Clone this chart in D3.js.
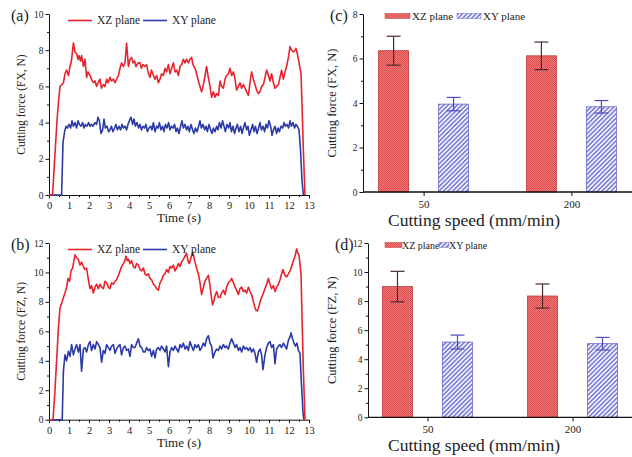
<!DOCTYPE html>
<html>
<head>
<meta charset="utf-8">
<script src="https://cdn.jsdelivr.net/npm/d3@7"></script>
<style>
  body { margin: 0; background: #fff; }
  svg text { font-family: 'Liberation Serif', 'Times New Roman', Times, serif; fill: #222; }
</style>
</head>
<body>
<svg id="chart" width="632" height="457" font-family="Liberation Serif, serif"></svg>
<script>
// ---- data ----
const timeTicks = [0, 1, 2, 3, 4, 5, 6, 7, 8, 9, 10, 11, 12, 13];
const timeMinor = [0.5, 1.5, 2.5, 3.5, 4.5, 5.5, 6.5, 7.5, 8.5, 9.5, 10.5, 11.5, 12.5];
const planes = ['XZ plane', 'XY plane'];
const speeds = ['50', '200'];

// (a) FX vs time, [t, N]
const fxXZLine = [[0,0],[0.18,0],[0.3,2.3],[0.4,4.1],[0.47,5.1],[0.55,6.0],[0.65,6.1],[0.72,6.2],[0.8,6.7],[0.88,6.9],[0.97,6.6],[1.05,7.1],[1.12,7.4],[1.22,8.4],[1.3,7.9],[1.38,7.8],[1.45,7.5],[1.5,7.7],[1.57,7.4],[1.63,7.7],[1.72,7.1],[1.8,7.5],[1.88,6.5],[1.95,6.8],[2.05,6.6],[2.12,6.4],[2.22,6.2],[2.3,6.3],[2.38,6.0],[2.45,6.2],[2.55,6.4],[2.62,5.9],[2.72,6.1],[2.8,6.0],[2.88,6.4],[2.95,6.2],[3.05,6.5],[3.12,6.3],[3.22,6.4],[3.3,6.2],[3.38,6.4],[3.47,6.6],[3.55,7.0],[3.63,7.3],[3.72,7.1],[3.8,7.3],[3.88,8.4],[3.97,7.1],[4.05,7.5],[4.13,7.6],[4.2,7.3],[4.28,7.4],[4.35,7.1],[4.45,7.3],[4.55,7.3],[4.62,7.0],[4.7,7.2],[4.8,7.1],[4.88,7.2],[4.95,6.8],[5.05,6.5],[5.12,6.9],[5.22,6.6],[5.3,6.4],[5.38,6.6],[5.47,6.2],[5.55,6.4],[5.63,6.7],[5.72,6.6],[5.8,7.0],[5.88,6.8],[5.97,7.2],[6.05,6.7],[6.13,7.0],[6.22,7.3],[6.3,6.8],[6.38,6.9],[6.47,6.6],[6.55,7.1],[6.63,7.2],[6.72,7.5],[6.8,7.3],[6.88,7.5],[6.97,7.3],[7.05,7.5],[7.13,7.6],[7.2,7.2],[7.3,7.0],[7.38,6.7],[7.47,6.3],[7.55,6.0],[7.63,5.7],[7.72,6.1],[7.8,6.6],[7.88,7.1],[7.95,6.6],[8.05,6.0],[8.13,5.4],[8.22,5.7],[8.3,5.4],[8.38,5.6],[8.47,5.5],[8.55,6.3],[8.63,6.0],[8.72,5.9],[8.8,6.4],[8.88,6.6],[8.97,6.7],[9.05,7.0],[9.13,6.6],[9.22,6.8],[9.3,6.4],[9.38,5.8],[9.47,6.0],[9.55,6.2],[9.63,5.9],[9.72,6.1],[9.8,5.9],[9.88,5.7],[9.97,5.5],[10.05,6.2],[10.13,6.8],[10.22,6.4],[10.3,6.1],[10.38,5.8],[10.47,5.6],[10.55,5.7],[10.63,6.0],[10.72,6.1],[10.8,6.5],[10.88,6.9],[10.97,6.6],[11.05,6.3],[11.13,6.7],[11.22,6.2],[11.3,5.9],[11.38,6.0],[11.47,6.1],[11.55,6.5],[11.63,6.9],[11.72,6.4],[11.8,6.8],[11.88,7.1],[11.97,7.6],[12.05,8.2],[12.13,8.0],[12.22,7.9],[12.3,8.0],[12.35,8.1],[12.42,7.8],[12.47,7.5],[12.55,7.0],[12.6,6.7],[12.65,5.0],[12.72,2.4],[12.8,0]];
const fxXYLine = [[0,0],[0.63,0],[0.7,2.9],[0.78,3.5],[0.85,3.8],[0.92,3.7],[1.0,3.9],[1.08,3.7],[1.15,4.1],[1.22,3.8],[1.3,4.0],[1.38,3.7],[1.45,4.1],[1.52,3.9],[1.6,3.8],[1.68,4.0],[1.75,3.7],[1.82,3.9],[1.9,3.8],[1.98,4.0],[2.05,3.8],[2.12,3.9],[2.2,3.8],[2.3,4.0],[2.38,3.9],[2.45,4.3],[2.52,4.1],[2.6,3.4],[2.68,3.6],[2.75,4.2],[2.82,3.7],[2.9,3.8],[2.98,3.5],[3.05,3.6],[3.12,3.8],[3.2,3.5],[3.28,3.7],[3.35,3.9],[3.42,3.6],[3.5,3.8],[3.58,3.6],[3.65,3.9],[3.72,3.7],[3.8,3.8],[3.88,3.6],[3.95,3.9],[4.02,4.1],[4.1,4.3],[4.18,3.9],[4.25,4.2],[4.32,3.8],[4.4,4.0],[4.48,3.7],[4.55,3.9],[4.62,3.6],[4.7,3.8],[4.78,3.7],[4.85,3.9],[4.92,3.5],[5.0,3.7],[5.08,3.8],[5.15,3.6],[5.22,4.0],[5.3,3.5],[5.38,3.8],[5.45,3.7],[5.52,4.0],[5.6,3.6],[5.68,3.8],[5.75,3.5],[5.82,3.9],[5.9,3.7],[5.98,4.0],[6.05,3.6],[6.12,3.8],[6.2,3.7],[6.28,3.9],[6.35,3.5],[6.42,3.7],[6.5,3.4],[6.58,3.8],[6.65,4.1],[6.72,3.7],[6.8,3.9],[6.88,3.6],[6.95,3.8],[7.02,3.5],[7.1,3.9],[7.18,3.6],[7.25,3.4],[7.32,3.7],[7.4,3.5],[7.48,3.8],[7.55,4.1],[7.62,3.7],[7.7,3.9],[7.78,3.6],[7.85,3.8],[7.92,3.5],[8.0,3.9],[8.08,3.6],[8.15,3.4],[8.22,3.7],[8.3,3.5],[8.38,3.8],[8.45,3.6],[8.52,4.0],[8.6,3.7],[8.68,4.1],[8.75,3.8],[8.82,3.5],[8.9,3.9],[8.98,3.7],[9.05,4.0],[9.12,3.5],[9.2,3.8],[9.28,3.4],[9.35,3.7],[9.42,3.9],[9.5,3.5],[9.58,3.8],[9.65,3.4],[9.72,3.7],[9.8,4.0],[9.88,3.6],[9.95,3.8],[10.02,3.3],[10.1,3.6],[10.18,3.9],[10.25,3.5],[10.32,3.8],[10.4,3.4],[10.48,3.7],[10.55,4.0],[10.62,3.6],[10.7,3.8],[10.78,3.5],[10.85,3.9],[10.92,3.7],[11.0,4.1],[11.08,3.8],[11.15,3.3],[11.22,3.6],[11.3,3.8],[11.38,3.4],[11.45,3.7],[11.52,3.5],[11.6,3.8],[11.68,3.7],[11.75,4.0],[11.82,3.8],[11.9,3.9],[11.98,3.7],[12.05,4.1],[12.12,3.8],[12.2,4.0],[12.28,3.7],[12.35,3.9],[12.42,3.8],[12.5,3.6],[12.58,2.4],[12.65,0.8],[12.72,0]];

// (b) FZ vs time, [t, N]
const fzXZLine = [[0,0],[0.2,0],[0.3,2.0],[0.38,4.0],[0.47,6.2],[0.55,7.6],[0.63,7.9],[0.72,8.3],[0.8,8.6],[0.88,9.0],[0.95,9.6],[1.03,9.4],[1.1,10.1],[1.18,10.3],[1.3,11.2],[1.38,11.0],[1.46,10.9],[1.55,10.5],[1.63,10.7],[1.72,10.4],[1.8,10.2],[1.88,10.3],[1.97,9.5],[2.05,8.9],[2.13,9.1],[2.22,8.6],[2.3,9.0],[2.38,9.2],[2.47,8.9],[2.55,9.2],[2.63,9.0],[2.72,8.9],[2.8,9.4],[2.88,9.3],[2.97,9.0],[3.05,8.9],[3.13,9.3],[3.22,9.2],[3.3,9.4],[3.38,9.5],[3.47,9.8],[3.55,10.1],[3.63,10.4],[3.72,10.6],[3.8,10.8],[3.85,11.1],[3.92,10.8],[3.97,10.9],[4.05,10.6],[4.13,10.8],[4.22,10.4],[4.3,10.3],[4.38,10.6],[4.47,10.5],[4.55,10.2],[4.63,10.1],[4.72,10.3],[4.8,9.9],[4.88,9.8],[4.97,9.9],[5.05,9.6],[5.13,9.5],[5.22,9.2],[5.3,9.1],[5.38,8.9],[5.47,8.8],[5.55,9.3],[5.63,9.5],[5.72,9.8],[5.8,9.9],[5.88,10.2],[5.97,10.0],[6.05,10.4],[6.13,10.3],[6.22,10.5],[6.3,10.1],[6.38,10.3],[6.47,10.6],[6.55,10.4],[6.63,10.7],[6.72,10.9],[6.8,11.1],[6.88,11.3],[6.95,10.8],[7.02,10.6],[7.1,11.0],[7.18,11.4],[7.25,11.0],[7.3,10.7],[7.38,10.3],[7.47,9.9],[7.55,9.3],[7.63,8.5],[7.72,9.0],[7.8,9.4],[7.88,9.6],[7.97,9.8],[8.05,9.1],[8.12,8.3],[8.18,7.8],[8.25,8.1],[8.3,8.4],[8.38,8.7],[8.47,8.3],[8.55,8.3],[8.63,8.6],[8.72,8.8],[8.8,8.5],[8.88,9.0],[8.97,9.3],[9.05,9.4],[9.13,9.6],[9.22,9.3],[9.3,9.0],[9.38,8.8],[9.47,8.5],[9.55,8.9],[9.63,9.0],[9.72,8.7],[9.8,8.8],[9.88,8.6],[9.97,9.0],[10.05,8.7],[10.13,8.5],[10.22,8.0],[10.3,7.6],[10.36,7.4],[10.42,7.4],[10.5,7.7],[10.55,8.0],[10.63,8.3],[10.72,8.6],[10.8,8.9],[10.88,9.2],[10.97,9.6],[11.05,9.2],[11.13,8.9],[11.22,9.1],[11.3,8.7],[11.38,9.0],[11.47,9.2],[11.55,9.5],[11.63,9.9],[11.7,10.2],[11.8,9.8],[11.88,9.7],[11.97,9.9],[12.05,10.1],[12.13,10.4],[12.22,10.8],[12.3,11.1],[12.38,11.6],[12.44,11.3],[12.5,11.2],[12.6,9.9],[12.66,6.5],[12.72,3.3],[12.8,0]];
const fzXYLine = [[0,0],[0.66,0],[0.72,3.3],[0.8,4.4],[0.88,4.0],[0.97,4.65],[1.05,4.3],[1.13,5.1],[1.22,4.4],[1.3,4.8],[1.38,5.1],[1.47,4.6],[1.55,5.1],[1.63,3.3],[1.72,4.8],[1.8,4.9],[1.88,4.6],[1.97,5.1],[2.05,5.3],[2.13,4.7],[2.22,5.1],[2.3,4.8],[2.38,5.3],[2.47,5.1],[2.55,4.9],[2.63,3.9],[2.72,4.7],[2.8,4.5],[2.88,5.1],[2.97,4.9],[3.05,4.7],[3.13,5.0],[3.22,5.1],[3.3,4.5],[3.38,4.8],[3.47,5.0],[3.55,5.1],[3.63,4.4],[3.72,4.9],[3.8,5.0],[3.88,4.7],[3.97,4.8],[4.05,4.3],[4.13,5.1],[4.22,4.9],[4.3,4.9],[4.38,5.2],[4.47,5.5],[4.55,5.0],[4.63,4.9],[4.72,4.6],[4.8,4.6],[4.88,4.9],[4.97,4.7],[5.05,4.8],[5.13,4.3],[5.22,4.7],[5.3,4.2],[5.38,4.8],[5.47,4.9],[5.55,4.7],[5.63,5.0],[5.72,4.8],[5.8,4.6],[5.88,5.0],[5.97,3.6],[6.05,4.6],[6.13,4.9],[6.22,4.7],[6.3,5.0],[6.38,4.8],[6.47,4.6],[6.55,5.1],[6.63,4.9],[6.72,5.2],[6.8,4.8],[6.88,5.0],[6.97,4.7],[7.05,5.3],[7.13,5.0],[7.22,4.7],[7.3,5.1],[7.38,4.9],[7.47,5.1],[7.55,4.7],[7.63,4.9],[7.72,5.2],[7.8,5.0],[7.88,5.5],[7.97,5.7],[8.05,5.2],[8.13,5.0],[8.2,4.2],[8.3,4.6],[8.38,4.8],[8.47,4.7],[8.55,5.0],[8.63,4.8],[8.72,5.1],[8.8,4.9],[8.88,5.0],[8.97,4.8],[9.05,5.2],[9.13,5.5],[9.22,5.2],[9.3,4.9],[9.38,5.1],[9.47,4.7],[9.55,4.9],[9.63,4.6],[9.72,5.0],[9.8,4.8],[9.88,4.9],[9.97,4.7],[10.05,4.9],[10.13,4.6],[10.22,4.8],[10.3,4.5],[10.38,3.9],[10.47,4.6],[10.55,4.8],[10.63,4.4],[10.7,3.4],[10.8,4.4],[10.88,4.9],[10.97,5.2],[11.05,5.3],[11.13,4.9],[11.22,5.1],[11.3,3.8],[11.38,4.8],[11.47,5.0],[11.55,5.1],[11.63,4.9],[11.72,5.2],[11.8,5.0],[11.88,4.8],[11.97,5.4],[12.05,5.6],[12.1,5.9],[12.18,5.5],[12.25,5.2],[12.32,5.0],[12.4,5.2],[12.47,4.7],[12.55,4.5],[12.62,2.5],[12.7,0.5],[12.74,0]];

// (c) / (d) mean force and error, per cutting speed
const fxXZ = [6.35, 6.12], fxXZErr = [0.65, 0.62];
const fxXY = [3.95, 3.83], fxXYErr = [0.30, 0.28];
const fzXZ = [9.00, 8.35], fzXZErr = [1.05, 0.83];
const fzXY = [5.18, 5.07], fzXYErr = [0.48, 0.43];

// ---- drawing ----
const RED = '#e8232b', BLUE = '#2b3aa6';
const SERIF = 'Liberation Serif, Times New Roman, serif';
const svg = d3.select('#chart');

const defs = svg.append('defs');
const pXZ = defs.append('pattern').attr('id', 'pXZ')
  .attr('width', 2).attr('height', 2).attr('patternUnits', 'userSpaceOnUse');
pXZ.append('rect').attr('width', 2).attr('height', 2).attr('fill', '#f27a7a');
pXZ.append('rect').attr('width', 1).attr('height', 1).attr('fill', '#de4a4a');
pXZ.append('rect').attr('x', 1).attr('y', 1).attr('width', 1).attr('height', 1).attr('fill', '#de4a4a');
const pXY = defs.append('pattern').attr('id', 'pXY')
  .attr('width', 3.2).attr('height', 3.2).attr('patternUnits', 'userSpaceOnUse')
  .attr('patternTransform', 'rotate(45)');
pXY.append('rect').attr('width', 3.2).attr('height', 3.2).attr('fill', '#f2f2ff');
pXY.append('line').attr('x1', 0.8).attr('x2', 0.8).attr('y1', 0).attr('y2', 3.2)
  .attr('stroke', '#7070d0').attr('stroke-width', 1.4);

function styleAxis(g, size) {
  g.attr('font-family', SERIF).attr('font-size', size);
  g.selectAll('text').attr('font-family', SERIF).style('font-size', size + 'px').attr('fill', '#222');
  g.selectAll('line, path').attr('stroke', '#111');
}

function label(g, txt, size) {
  return g.append('text').attr('font-family', SERIF).style('font-size', size + 'px').text(txt);
}

function linePanel(o) {
  const x = d3.scaleLinear().domain([0, 13]).range([49, 309]);
  const y = d3.scaleLinear().domain([0, o.yMax]).range([o.bottom, o.top]);
  const g = svg.append('g');

  g.append('g').attr('transform', `translate(0,${o.bottom})`)
    .call(d3.axisBottom(x).tickValues(timeMinor).tickSize(2).tickFormat(''))
    .call(a => a.select('.domain').remove())
    .call(a => styleAxis(a, 10));
  g.append('g').attr('transform', `translate(0,${o.bottom})`)
    .call(d3.axisBottom(x).tickValues(timeTicks).tickSize(3.5).tickSizeOuter(0).tickPadding(3))
    .call(a => styleAxis(a, 10.5));
  g.append('g').attr('transform', 'translate(49,0)')
    .call(d3.axisLeft(y).tickValues(o.yMinor).tickSize(2).tickFormat(''))
    .call(a => a.select('.domain').remove())
    .call(a => styleAxis(a, 9));
  g.append('g').attr('transform', 'translate(49,0)')
    .call(d3.axisLeft(y).tickValues(o.yTicks).tickSize(3.5).tickSizeOuter(0).tickPadding(2))
    .call(a => styleAxis(a, 9.5));

  const line = d3.line().x(d => x(d[0])).y(d => y(d[1]));
  g.append('path').datum(o.xy).attr('d', line)
    .attr('fill', 'none').attr('stroke', BLUE).attr('stroke-width', 1.6).attr('stroke-linejoin', 'round');
  g.append('path').datum(o.xz).attr('d', line)
    .attr('fill', 'none').attr('stroke', RED).attr('stroke-width', 1.6).attr('stroke-linejoin', 'round');

  // legend
  const ly = o.top + 6.5;
  [[68, 97, RED], [143, 172, BLUE]].forEach(([lx, tx, c], i) => {
    g.append('line').attr('x1', lx).attr('x2', lx + 24).attr('y1', ly).attr('y2', ly)
      .attr('stroke', c).attr('stroke-width', 1.6);
    label(g, planes[i], 11.5).attr('x', tx).attr('y', ly + 3.5);
  });

  label(g, o.tag, 16).attr('x', 11).attr('y', o.top + 7);
  label(g, o.yTitle, 11.5).attr('transform', `translate(25,${(o.top + o.bottom) / 2}) rotate(-90)`)
    .attr('text-anchor', 'middle');
  label(g, 'Time (s)', 13).attr('x', 179).attr('y', o.bottom + 27).attr('text-anchor', 'middle');
}

function barPanel(o) {
  const x = d3.scalePoint().domain(speeds).range([o.left, 632]).padding(0.41);
  const inner = d3.scaleBand().domain(planes).range([-45, 45]).paddingInner(0.5);
  const y = d3.scaleLinear().domain([0, o.yMax]).range([o.bottom, o.top]);
  const g = svg.append('g');

  const series = [
    { name: planes[0], vals: o.xz, errs: o.xzErr, fill: 'url(#pXZ)', stroke: '#c23a3a', err: '#4a2c2c' },
    { name: planes[1], vals: o.xy, errs: o.xyErr, fill: 'url(#pXY)', stroke: '#6a6acc', err: '#4d4db8' }
  ];
  series.forEach(s => {
    const rows = speeds.map((sp, i) => ({ sp, v: s.vals[i], e: s.errs[i] }));
    g.selectAll(null).data(rows).enter().append('rect')
      .attr('x', d => x(d.sp) + inner(s.name))
      .attr('width', inner.bandwidth())
      .attr('y', d => y(d.v))
      .attr('height', d => y(0) - y(d.v))
      .attr('fill', s.fill).attr('stroke', s.stroke).attr('stroke-width', 0.8);
    const eb = g.selectAll(null).data(rows).enter().append('g')
      .attr('transform', d => `translate(${x(d.sp) + inner(s.name) + inner.bandwidth() / 2},0)`)
      .attr('stroke', s.err).attr('stroke-width', 1.2);
    eb.append('line').attr('y1', d => y(d.v - d.e)).attr('y2', d => y(d.v + d.e));
    eb.append('line').attr('x1', -7).attr('x2', 7).attr('y1', d => y(d.v + d.e)).attr('y2', d => y(d.v + d.e));
    eb.append('line').attr('x1', -7).attr('x2', 7).attr('y1', d => y(d.v - d.e)).attr('y2', d => y(d.v - d.e));
  });

  g.append('g').attr('transform', `translate(${o.left},0)`)
    .call(d3.axisLeft(y).tickValues(o.yMinor).tickSize(2).tickFormat(''))
    .call(a => a.select('.domain').remove())
    .call(a => styleAxis(a, 9));
  g.append('g').attr('transform', `translate(${o.left},0)`)
    .call(d3.axisLeft(y).tickValues(o.yTicks).tickSize(3.5).tickSizeOuter(0).tickPadding(2))
    .call(a => styleAxis(a, 9.5));
  g.append('g').attr('transform', `translate(0,${o.bottom})`)
    .call(d3.axisBottom(x).tickSize(4).tickSizeOuter(0).tickPadding(4))
    .call(a => a.select('.domain').attr('d', `M${o.left},0H632`).attr('stroke-width', 1.3))
    .call(a => styleAxis(a, 11));

  // legend
  const ly = o.top + 2;
  o.legend.forEach(([sx, sw, tx], i) => {
    g.append('rect').attr('x', sx).attr('y', ly - 2.5).attr('width', sw).attr('height', 5)
      .attr('fill', series[i].fill).attr('stroke', series[i].stroke).attr('stroke-width', 0.5);
    label(g, planes[i], o.legendSize).attr('x', tx).attr('y', ly + 3.5);
  });

  label(g, o.tag, 16).attr('x', o.left - 33).attr('y', o.top + 7);
  label(g, o.yTitle, 12.5).attr('transform', `translate(336,${(o.top + o.bottom) / 2}) rotate(-90)`)
    .attr('text-anchor', 'middle');
  label(g, 'Cutting speed (mm/min)', 17.5).attr('x', 474).attr('y', o.bottom + 34).attr('text-anchor', 'middle');
}

linePanel({ tag: '(a)', top: 14, bottom: 195, yMax: 10, yTicks: [0, 2, 4, 6, 8, 10], yMinor: [1, 3, 5, 7, 9],
  yTitle: 'Cutting force (FX, N)', xz: fxXZLine, xy: fxXYLine });
linePanel({ tag: '(b)', top: 243, bottom: 419.7, yMax: 12, yTicks: [0, 2, 4, 6, 8, 10, 12], yMinor: [1, 3, 5, 7, 9, 11],
  yTitle: 'Cutting force (FZ, N)', xz: fzXZLine, xy: fzXYLine });
barPanel({ tag: '(c)', left: 363, top: 14, bottom: 192, yMax: 8, yTicks: [0, 2, 4, 6, 8], yMinor: [1, 3, 5, 7],
  yTitle: 'Cutting force (FX, N)', xz: fxXZ, xzErr: fxXZErr, xy: fxXY, xyErr: fxXYErr,
  legend: [[385, 25, 412], [457, 24, 483]], legendSize: 11 });
barPanel({ tag: '(d)', left: 368, top: 243, bottom: 417.3, yMax: 12, yTicks: [0, 2, 4, 6, 8, 10, 12], yMinor: [1, 3, 5, 7, 9, 11],
  yTitle: 'Cutting force (FZ, N)', xz: fzXZ, xzErr: fzXZErr, xy: fzXY, xyErr: fzXYErr,
  legend: [[385, 17, 402], [439, 10, 449]], legendSize: 10 });
</script>
</body>
</html>
